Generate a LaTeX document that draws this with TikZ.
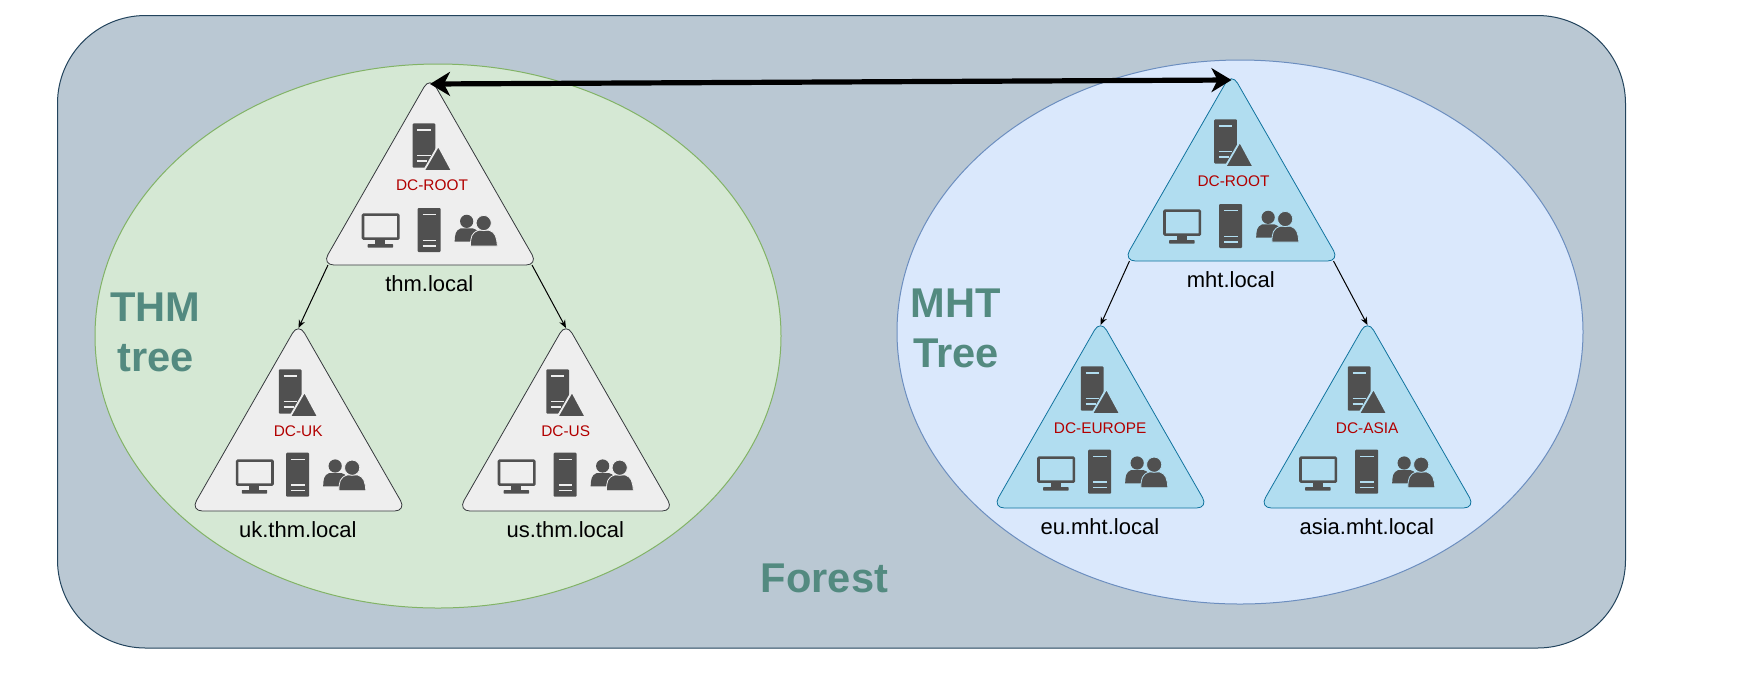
\documentclass[tikz,border=0pt]{standalone}
\usepackage{fontspec}
\setmainfont{Liberation Sans}
\usetikzlibrary{arrows.meta}

\definecolor{forestfill}{HTML}{BAC8D3}
\definecolor{forestedge}{HTML}{23445D}
\definecolor{thmfill}{HTML}{D5E8D4}
\definecolor{thmedge}{HTML}{82B366}
\definecolor{mhtfill}{HTML}{DAE8FC}
\definecolor{mhtedge}{HTML}{6C8EBF}
\definecolor{greyfill}{HTML}{EEEEEE}
\definecolor{greyedge}{HTML}{36393D}
\definecolor{bluefill}{HTML}{B1DDF0}
\definecolor{blueedge}{HTML}{10739E}
\definecolor{icon}{HTML}{505050}
\definecolor{dcred}{HTML}{B20000}
\definecolor{headline}{HTML}{538A80}

\tikzset{
  every node/.style={inner sep=0pt, outer sep=0pt},
  zone/.style={line width=0.5pt},
  headtext/.style={font=\bfseries\fontsize{20.8}{25}\selectfont, text=headline, align=center},
  dctext/.style={font=\fontsize{7.7}{9}\selectfont, text=dcred},
  domaintext/.style={font=\fontsize{11}{13}\selectfont, text=black},
  link/.style={line width=0.5pt, -{Stealth[length=4pt,width=3.2pt]}},
  trustlink/.style={line width=2.6pt, {Stealth[length=10pt,width=12pt,inset=3pt]}-{Stealth[length=10pt,width=12pt,inset=3pt]}},
  slot/.style={draw=#1, line width=0.75pt},
}

% One domain: triangle, domain controller icon, workstation, server, users and labels.
% #1 name, #2 x, #3 y (middle of the base), #4 palette, #5 controller label, #6 domain label,
% #7 workstation x shift, #8 controller icon x shift, #9 lower row y shift
\newcommand{\domaintri}[9]{%
  \begin{scope}[shift={(#2,#3)}, x=0.16667pt, y=-0.16667pt]
    \path[fill=#4fill, draw=#4edge, line width=0.4pt, rounded corners=6pt, line join=round]
      (-324,0) -- (324,0) -- (0,-565) -- cycle;
    \coordinate (#1-apex) at (0,-549);
    \coordinate (#1-peak) at (0,-543);
    \coordinate (#1-left) at (-306,0);
    \coordinate (#1-right) at (306,0);
    % domain controller icon
    \begin{scope}[xshift=#8*0.16667pt]
      \fill[icon, rounded corners=0.5pt] (-52,-425) rectangle (16,-292);
      \draw[slot=#4fill] (-38,-405) -- (2,-405);
      \draw[slot=#4fill] (-38,-329) -- (2,-329);
      \draw[slot=#4fill] (-38,-312) -- (-8,-312);
      \fill[icon, draw=#4fill, line width=0.9pt, line join=round]
        (25,-358) -- (66,-282) -- (-19,-282) -- cycle;
    \end{scope}
    \node[dctext] (#1-dc) at (6+#8,-240) {#5};
    % workstation
    \begin{scope}[xshift=#7*0.16667pt]
      \draw[icon, line width=1.3pt, rounded corners=0.4pt] (-201,-151) rectangle (-95,-79);
      \fill[icon] (-165,-76) rectangle (-135,-62);
      \fill[icon, rounded corners=0.3pt] (-187,-63) rectangle (-111,-52);
    \end{scope}
    \begin{scope}[yshift=#9*0.16667pt]
      % member server
      \fill[icon, rounded corners=0.5pt] (-37,-171) rectangle (32,-39);
      \draw[slot=#4fill] (-22,-151) -- (18,-151);
      \draw[slot=#4fill] (-22,-74) -- (18,-74);
      \draw[slot=#4fill] (-22,-57) -- (18,-57);
      % user group
      \fill[icon] (110,-131) circle[radius=3.3pt];
      \fill[icon] (74,-70) .. controls (75,-92) and (76,-103) .. (92,-110)
        -- (128,-110) .. controls (142,-106) and (150,-100) .. (150,-70) -- cycle;
      \fill[icon, draw=#4fill, line width=0.4pt]
        (121,-57) .. controls (122,-84) and (124,-97) .. (146,-104)
        -- (178,-104) .. controls (196,-98) and (200,-84) .. (202,-57) -- cycle;
      \fill[icon, draw=#4fill, line width=0.4pt] (161,-126) circle[radius=3.8pt];
    \end{scope}
    \node[domaintext] (#1-name) at (-2,57) {#6};
  \end{scope}%
}

\begin{document}
\begin{tikzpicture}[x=0.5pt, y=-0.5pt]
  \useasboundingbox (0,0) rectangle (1747,677);

  % forest and the two trees
  \path[fill=forestfill, draw=forestedge, zone, rounded corners=44pt]
    (57.5,15.5) rectangle (1625.5,648);
  \path[fill=thmfill, draw=thmedge, zone] (438,336) ellipse[x radius=171.5pt, y radius=136pt];
  \path[fill=mhtfill, draw=mhtedge, zone] (1240,332) ellipse[x radius=171.5pt, y radius=136pt];

  \domaintri{thm}{430}{265}{grey}{DC-ROOT}{thm.local}{0}{0}{0}
  \domaintri{uk}{298.5}{511}{grey}{DC-UK}{uk.thm.local}{17}{-7}{4}
  \domaintri{us}{566}{511}{grey}{DC-US}{us.thm.local}{0}{-7}{4}
  \domaintri{mht}{1231.5}{261}{blue}{DC-ROOT}{mht.local}{0}{0}{0}
  \domaintri{eu}{1100.5}{508}{blue}{DC-EUROPE}{eu.mht.local}{15}{-7}{4}
  \domaintri{asia}{1367.5}{508}{blue}{DC-ASIA}{asia.mht.local}{0}{-7}{4}

  \draw[link] (thm-left) -- (uk-apex);
  \draw[link] (thm-right) -- (us-apex);
  \draw[link] (mht-left) -- (eu-apex);
  \draw[link] (mht-right) -- (asia-apex);
  \draw[trustlink] (thm-peak) -- (mht-peak);

  \node[headtext] (thmhead) at (155.5,332) {THM\\tree};
  \node[headtext] (mhthead) at (956,328) {MHT\\Tree};
  \node[headtext] (foresthead) at (824.5,578) {Forest};
\end{tikzpicture}
\end{document}
